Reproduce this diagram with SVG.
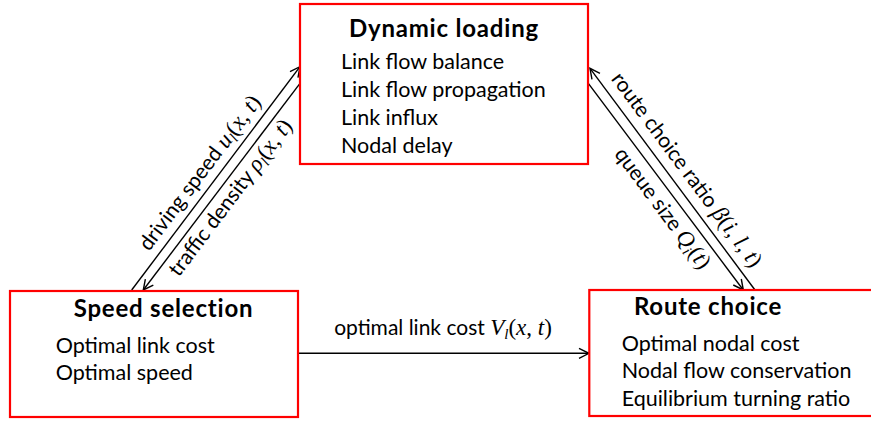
<svg xmlns="http://www.w3.org/2000/svg" width="871" height="421" viewBox="0 0 871 421">
<defs>
<style>
.box{fill:#fff;stroke:#ff0000;stroke-width:2.2}
.title{font-family:Lato,"Liberation Sans",sans-serif;font-weight:bold;font-size:24px;letter-spacing:0.8px;fill:#000}
.item{font-family:Lato,"Liberation Sans",sans-serif;font-size:21.5px;fill:#000}
.lbl{font-family:Lato,"Liberation Sans",sans-serif;font-size:21px;fill:#000}
.m{font-family:"Liberation Serif",serif;font-style:italic;font-size:23px}
.mn{font-family:"Liberation Serif",serif;font-size:23px}
.sub{font-family:"Liberation Serif",serif;font-style:italic;font-size:15px}
.edge{stroke:#000;stroke-width:1.4;fill:none}
</style>
<marker id="ah" viewBox="0 0 12 12" refX="11" refY="6" markerWidth="12" markerHeight="12" markerUnits="userSpaceOnUse" orient="auto">
<path d="M1,1 L11,6 L1,11" fill="none" stroke="#000" stroke-width="1.4"/>
</marker>
</defs>
<rect width="871" height="421" fill="#fff"/>
<g id="connectors">
<line class="edge" x1="131.7" y1="290" x2="300" y2="66.7" marker-end="url(#ah)"/>
<line class="edge" x1="300" y1="83.3" x2="143.3" y2="290" marker-end="url(#ah)"/>
<line class="edge" x1="755" y1="290" x2="590" y2="68.3" marker-end="url(#ah)"/>
<line class="edge" x1="588.3" y1="83.3" x2="743.3" y2="290" marker-end="url(#ah)"/>
<line class="edge" x1="298" y1="353.3" x2="589" y2="353.3" marker-end="url(#ah)"/>
<text class="lbl" transform="translate(205.5,177.1) rotate(-53)" text-anchor="middle">driving speed <tspan class="m">u</tspan><tspan class="sub" dy="4">l</tspan><tspan class="mn" dy="-4">(</tspan><tspan class="m">x</tspan><tspan class="mn">, </tspan><tspan class="m">t</tspan><tspan class="mn">)</tspan></text>
<text class="lbl" transform="translate(236,201.9) rotate(-53)" text-anchor="middle">traffic density <tspan class="m">ρ</tspan><tspan class="sub" dy="4">l</tspan><tspan class="mn" dy="-4">(</tspan><tspan class="m">x</tspan><tspan class="mn">, </tspan><tspan class="m">t</tspan><tspan class="mn">)</tspan></text>
<text class="lbl" transform="translate(681.2,174) rotate(53.3)" text-anchor="middle">route choice ratio <tspan class="m">β</tspan><tspan class="mn">(</tspan><tspan class="m">i</tspan><tspan class="mn">, </tspan><tspan class="m">l</tspan><tspan class="mn">, </tspan><tspan class="m">t</tspan><tspan class="mn">)</tspan></text>
<text class="lbl" transform="translate(657.1,212.5) rotate(53.3)" text-anchor="middle">queue size <tspan class="m">Q</tspan><tspan class="sub" dy="4">i</tspan><tspan class="mn" dy="-4">(</tspan><tspan class="m">t</tspan><tspan class="mn">)</tspan></text>
<text class="lbl" x="443" y="335" text-anchor="middle">optimal link cost <tspan class="m">V</tspan><tspan class="sub" dy="4">l</tspan><tspan class="mn" dy="-4">(</tspan><tspan class="m">x</tspan><tspan class="mn">, </tspan><tspan class="m">t</tspan><tspan class="mn">)</tspan></text>
</g>
<g id="dynamic-loading">
<rect class="box" x="300" y="4" width="288" height="160"/>
<text class="title" x="444" y="37" text-anchor="middle">Dynamic loading</text>
<text class="item" x="341" y="69.3">Link flow balance</text>
<text class="item" x="341" y="97.3">Link flow propagation</text>
<text class="item" x="341" y="125">Link influx</text>
<text class="item" x="341" y="152.7">Nodal delay</text>
</g>
<g id="speed-selection">
<rect class="box" x="10" y="291" width="288" height="126"/>
<text class="title" x="163.5" y="317.3" text-anchor="middle">Speed selection</text>
<text class="item" x="55.7" y="352.7">Optimal link cost</text>
<text class="item" x="55.7" y="380">Optimal speed</text>
</g>
<g id="route-choice">
<rect class="box" x="589.3" y="290" width="300" height="126"/>
<text class="title" x="708" y="315" text-anchor="middle">Route choice</text>
<text class="item" x="621.7" y="350.7">Optimal nodal cost</text>
<text class="item" x="621.7" y="378.3">Nodal flow conservation</text>
<text class="item" x="621.7" y="406">Equilibrium turning ratio</text>
</g>
</svg>
